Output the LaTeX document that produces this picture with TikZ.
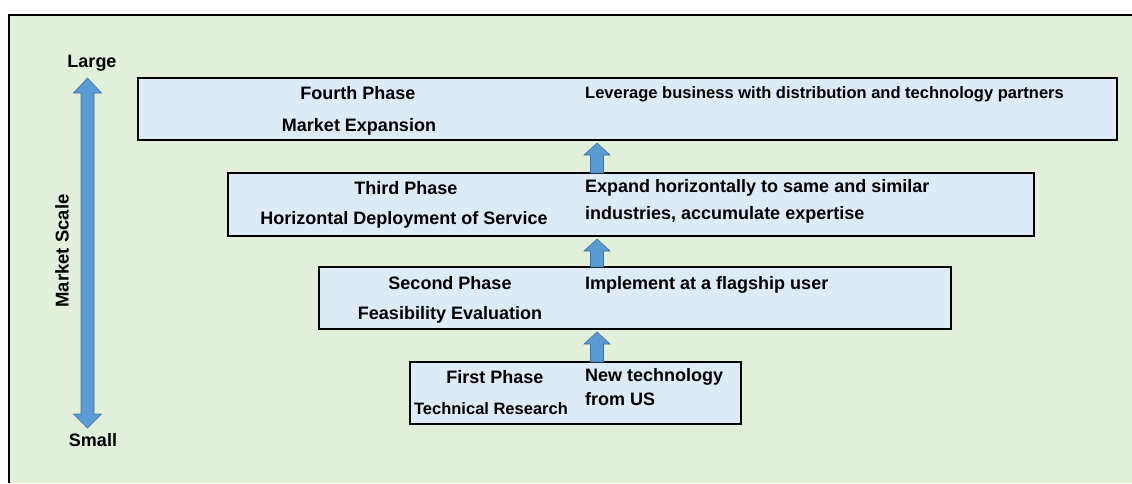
\documentclass[tikz,border=0pt]{standalone}
\usepackage{fontspec}
\setmainfont{Liberation Sans}
\usetikzlibrary{calc}
\definecolor{bggreen}{RGB}{226,239,218}
\definecolor{boxblue}{RGB}{221,235,247}
\definecolor{arrowfill}{RGB}{91,155,213}
\definecolor{arrowdraw}{RGB}{65,113,156}
\tikzset{
  phasebox/.style={draw=black, line width=2.4pt, fill=boxblue},
  lbl/.style={font=\fontsize{18}{21}\selectfont\bfseries, inner sep=0pt, anchor=center},
  desc/.style={font=\fontsize{18}{27}\selectfont\bfseries, inner sep=0pt, anchor=north west, align=left},
  blockarrow/.style={fill=arrowfill, draw=arrowdraw, line width=0.6pt},
}
\newcommand{\uparrowblock}[2]{% #1 bottom coordinate, #2 top coordinate
  \path[blockarrow] ($(#1)+(-6.5,0)$) -- ($(#2)+(-6.5,12)$) -- ($(#2)+(-13,12)$) -- (#2) -- ($(#2)+(13,12)$) -- ($(#2)+(6.5,12)$) -- ($(#1)+(6.5,0)$) -- cycle;
}
\begin{document}
\begin{tikzpicture}[x=1pt, y=-1pt]
\useasboundingbox (0,0) rectangle (1132,483);
\fill[white] (0,0) rectangle (1132,483);
\fill[bggreen] (9,15) rectangle (1132,483);
\draw[line width=2pt] (9,483) -- (9,15) -- (1132,15);

% boxes
\path[phasebox] (138,78) rectangle (1117,140);
\coordinate (p4top) at (597,78); \coordinate (p4bot) at (597,140);
\path[phasebox] (228,173) rectangle (1034,236);
\coordinate (p3top) at (597,173); \coordinate (p3bot) at (597,236);
\path[phasebox] (319,267) rectangle (951,329);
\coordinate (p2top) at (597,267); \coordinate (p2bot) at (597,329);
\path[phasebox] (410,362) rectangle (741,424);
\coordinate (p1top) at (597,362);

% labels
\node[lbl] (f4a) at (358,93) {Fourth Phase};
\node[lbl] (f4b) at (359,127) {Market Expansion};
\node[desc] (f4c) at (585,86.5) {\fontsize{16.5}{20}\selectfont Leverage business with distribution and technology partners};

\node[lbl] (f3a) at (406,188) {Third Phase};
\node[lbl] (f3b) at (404,220) {Horizontal Deployment of Service};
\node[desc] (f3c) at (585,179) {Expand horizontally to same and similar\\industries, accumulate expertise};

\node[lbl] (f2a) at (450,283) {Second Phase};
\node[lbl] (f2b) at (450,315) {Feasibility Evaluation};
\node[desc] (f2c) at (585,276) {Implement at a flagship user};

\node[lbl] (f1a) at (495,377) {First Phase};
\node[lbl, font=\fontsize{16.5}{20}\selectfont\bfseries] (f1b) at (491,409) {Technical Research};
\node[desc, font=\fontsize{18}{24.5}\selectfont\bfseries] (f1c) at (585,368) {New technology\\from US};

% small arrows
\uparrowblock{p3top}{$(p4bot)+(0,3)$}
\uparrowblock{p2top}{$(p3bot)+(0,3)$}
\uparrowblock{p1top}{$(p2bot)+(0,3)$}

% market scale arrow
\coordinate (mtop) at (87.5,78);
\coordinate (mbot) at (87.5,428);
\path[blockarrow] (mtop) -- ($(mtop)+(14,15)$) -- ($(mtop)+(6.5,15)$) -- ($(mbot)+(6.5,-14)$) -- ($(mbot)+(14,-14)$) -- (mbot) -- ($(mbot)+(-14,-14)$) -- ($(mbot)+(-6.5,-14)$) -- ($(mtop)+(-6.5,15)$) -- ($(mtop)+(-14,15)$) -- cycle;
\node[lbl] (large) at (92,63) {Large};
\node[lbl] (small) at (93,440) {Small};
\node[lbl, rotate=90, font=\fontsize{18.5}{21}\selectfont\bfseries] (scale) at (62,251) {Market Scale};
\end{tikzpicture}
\end{document}
